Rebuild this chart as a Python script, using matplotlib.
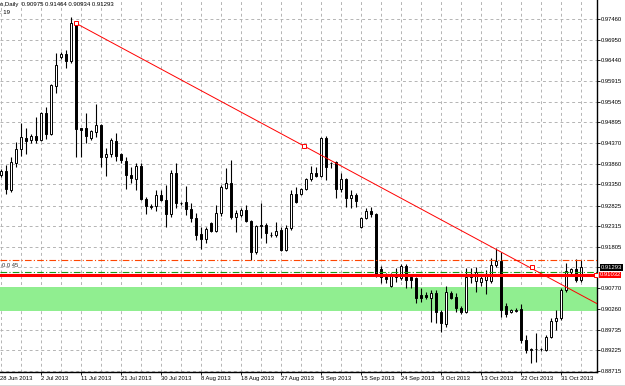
import matplotlib
matplotlib.use('Agg')
import matplotlib.pyplot as plt
from matplotlib.transforms import blended_transform_factory

plt.rcParams['font.family'] = ['Liberation Sans', 'DejaVu Sans']

# daily candles, bar index 0 = first visible bar
opens = [0.93585, 0.93685, 0.93212, 0.93884, 0.94232, 0.94506, 0.94456, 0.94556, 0.94456, 0.95128,
         0.94605, 0.95800, 0.96534, 0.96596, 0.96422, 0.97368, 0.94747, 0.94755, 0.94506, 0.94655,
         0.94830, 0.94033, 0.94108, 0.94431, 0.94108, 0.93934, 0.93585, 0.93486, 0.93809, 0.92987,
         0.92801, 0.92814, 0.93087, 0.92963, 0.92615, 0.93635, 0.92888, 0.92913, 0.92739, 0.92515,
         0.92117, 0.91993, 0.92391, 0.92192, 0.92640, 0.93262, 0.93386, 0.92540, 0.92590, 0.92714,
         0.92440, 0.91669, 0.92341, 0.92341, 0.92092, 0.92080, 0.92217, 0.91719, 0.92266, 0.93112,
         0.93112, 0.93237, 0.93486, 0.93635, 0.93561, 0.94506, 0.93884, 0.93909, 0.93237, 0.93486,
         0.93013, 0.93087, 0.92291, 0.92515, 0.92689, 0.92615, 0.91246, 0.91047, 0.90823, 0.91047,
         0.91022, 0.91321, 0.91047, 0.91022, 0.90599, 0.90599, 0.90524, 0.90649, 0.90176, 0.89877,
         0.90649, 0.90549, 0.90275, 0.90176, 0.91047, 0.90947, 0.90923, 0.90972, 0.90947, 0.91346,
         0.91445, 0.90325, 0.90176, 0.90213, 0.90250, 0.89479, 0.89230, 0.89243, 0.89243, 0.89230,
         0.89554, 0.89952, 0.90026, 0.90723, 0.91171, 0.91246, 0.90975]
highs = [0.93735, 0.93834, 0.94033, 0.94407, 0.94879, 0.94755, 0.94605, 0.95029, 0.95153, 0.95278,
         0.95850, 0.96621, 0.96646, 0.96696, 0.97517, 0.97393, 0.94767, 0.95128, 0.94705, 0.95352,
         0.94854, 0.94257, 0.94506, 0.94630, 0.94133, 0.94033, 0.93785, 0.93884, 0.93884, 0.93038,
         0.92863, 0.93212, 0.93212, 0.93336, 0.93710, 0.93884, 0.92913, 0.93311, 0.92888, 0.92640,
         0.92291, 0.92291, 0.92416, 0.92838, 0.93336, 0.93760, 0.93959, 0.92714, 0.92764, 0.92838,
         0.92465, 0.92341, 0.92888, 0.92391, 0.92167, 0.92416, 0.92291, 0.92341, 0.93212, 0.93287,
         0.93262, 0.93511, 0.93809, 0.93785, 0.94531, 0.94556, 0.93921, 0.93934, 0.93635, 0.93511,
         0.93212, 0.93137, 0.92540, 0.92764, 0.92789, 0.92640, 0.91321, 0.91146, 0.91146, 0.91271,
         0.91370, 0.91370, 0.91121, 0.91047, 0.90773, 0.90674, 0.90723, 0.90723, 0.90226, 0.90823,
         0.90698, 0.90649, 0.90325, 0.91271, 0.91271, 0.91296, 0.91121, 0.91221, 0.91520, 0.91769,
         0.91669, 0.90400, 0.90250, 0.90275, 0.90375, 0.89604, 0.89280, 0.89653, 0.89280, 0.89604,
         0.90026, 0.90226, 0.90773, 0.91395, 0.91271, 0.91495, 0.91464]
lows = [0.93535, 0.93112, 0.93162, 0.93785, 0.94058, 0.94108, 0.94382, 0.94382, 0.94431, 0.94481,
        0.94581, 0.95626, 0.96472, 0.96248, 0.96372, 0.94033, 0.94033, 0.94382, 0.94456, 0.94531,
        0.93785, 0.93561, 0.94033, 0.93934, 0.93884, 0.93237, 0.93386, 0.93212, 0.92963, 0.92615,
        0.92739, 0.92689, 0.92938, 0.92291, 0.92540, 0.92764, 0.92838, 0.92590, 0.92416, 0.91968,
        0.91744, 0.91893, 0.92167, 0.92167, 0.92565, 0.93237, 0.92490, 0.92167, 0.92540, 0.92416,
        0.91470, 0.91619, 0.92018, 0.91893, 0.92043, 0.92043, 0.91694, 0.91694, 0.92217, 0.92888,
        0.93087, 0.93212, 0.93436, 0.93536, 0.93536, 0.93461, 0.93760, 0.93013, 0.93162, 0.92789,
        0.92764, 0.92789, 0.92266, 0.92490, 0.92540, 0.91047, 0.90898, 0.90898, 0.90798, 0.90923,
        0.90972, 0.90773, 0.90773, 0.90400, 0.90425, 0.90499, 0.89927, 0.89902, 0.89678, 0.89803,
        0.90499, 0.90176, 0.90126, 0.90151, 0.90898, 0.90674, 0.90823, 0.90624, 0.90898, 0.91296,
        0.90051, 0.90051, 0.90151, 0.90176, 0.89404, 0.89156, 0.88907, 0.88932, 0.89205, 0.89205,
        0.89529, 0.89728, 0.89977, 0.90674, 0.91121, 0.90923, 0.90934]
closes = [0.93685, 0.93237, 0.93909, 0.94232, 0.94531, 0.94431, 0.94556, 0.94456, 0.95128, 0.94605,
          0.95825, 0.96323, 0.96596, 0.96422, 0.97368, 0.94730, 0.94705, 0.94556, 0.94680, 0.94830,
          0.94033, 0.94108, 0.94456, 0.94058, 0.93959, 0.93585, 0.93511, 0.93809, 0.92987, 0.92814,
          0.92814, 0.93087, 0.92963, 0.92615, 0.93635, 0.92888, 0.92876, 0.92739, 0.92515, 0.92092,
          0.91993, 0.92242, 0.92192, 0.92640, 0.93287, 0.93386, 0.92540, 0.92640, 0.92714, 0.92440,
          0.91669, 0.92316, 0.92328, 0.92142, 0.92080, 0.92204, 0.91719, 0.92266, 0.93112, 0.92913,
          0.93237, 0.93486, 0.93635, 0.93561, 0.94506, 0.93785, 0.93896, 0.93237, 0.93486, 0.93013,
          0.93087, 0.92938, 0.92515, 0.92689, 0.92615, 0.91097, 0.91047, 0.90997, 0.91121, 0.91097,
          0.91321, 0.90972, 0.90972, 0.90524, 0.90524, 0.90537, 0.90649, 0.90176, 0.89902, 0.90674,
          0.90524, 0.90275, 0.90176, 0.91047, 0.91097, 0.91171, 0.91022, 0.91121, 0.91346, 0.91445,
          0.90226, 0.90126, 0.90226, 0.90238, 0.89479, 0.89230, 0.89243, 0.89255, 0.89255, 0.89554,
          0.89952, 0.90026, 0.90723, 0.91196, 0.91246, 0.90972, 0.91293]

date_pos = [8, 16, 24, 32, 40, 48, 56, 64, 72, 80, 88, 96, 104, 112]
date_labels = ['2 Jul 2013', '11 Jul 2013', '21 Jul 2013', '30 Jul 2013', '8 Aug 2013',
               '18 Aug 2013', '27 Aug 2013', '5 Sep 2013', '15 Sep 2013', '24 Sep 2013',
               '3 Oct 2013', '13 Oct 2013', '22 Oct 2013', '31 Oct 2013']
first_date = '28 Jun 2013'

price_ticks = [0.97460, 0.96950, 0.96440, 0.95915, 0.95405, 0.94895, 0.94370, 0.93860, 0.93350,
               0.92825, 0.92315, 0.91805, 0.91293, 0.90770, 0.90260, 0.89735, 0.89225, 0.88715]
price_labels = ['%.5f' % p for p in price_ticks]
bid_price = 0.91293

# chart objects
trend_x = [15, 60.6, 106.2]
trend_y = [0.97360, 0.94307, 0.91296]
orange_level = 0.91482
green_level = 0.91171
red_level = 0.91100
red_label = '0.91032'
zone_top = 0.90791
zone_bottom = 0.90201

fig = plt.figure(figsize=(6.25, 3.86), dpi=100)
ax = fig.add_axes([0, 14 / 386, 597 / 625, 372 / 386])
ax.set_xlim(-0.2, 119.2)
ax.set_ylim(0.886827, 0.979403)

idx = list(range(len(opens)))

# grid
ax.set_axisbelow(True)
ax.set_xticks(range(0, 120, 4), minor=True)
ax.grid(True, which='both', axis='x', color='#b4b4b4', linestyle=(0, (3, 3)), lw=0.7)
ax.grid(True, which='major', axis='y', color='#b4b4b4', linestyle=(0, (3, 3)), lw=0.7)

# zone
ax.axhspan(zone_bottom, zone_top, color='#90ee90', lw=0, zorder=1)

# candles
ax.vlines(idx, lows, highs, color='black', lw=0.8, zorder=3)
bull = [c >= o for o, c in zip(opens, closes)]
bottoms = [min(o, c) for o, c in zip(opens, closes)]
heights = [max(abs(c - o), 0.00002) for o, c in zip(opens, closes)]
ax.bar(idx, heights, bottom=bottoms, width=0.5,
       color=['white' if b else 'black' for b in bull],
       edgecolor='black', lw=0.7, zorder=4)

# horizontal lines
ax.axhline(orange_level, color='#ff4500', lw=0.8, linestyle=(0, (6, 2, 1, 2)), zorder=5)
ax.axhline(green_level, color='#1a9a1a', lw=0.8, linestyle=(0, (6, 2, 1, 2)), zorder=5)
ax.axhline(red_level, color='#ff0000', lw=2.2, zorder=5)
ax.plot([118.9], [red_level], marker='s', ms=2.5, mfc='white', mec='red', mew=0.7, zorder=6)

# trend line from the top, extended to the right edge
slope = (trend_y[1] - trend_y[0]) / (trend_x[1] - trend_x[0])
x_end = 119.2
ax.plot([trend_x[0], x_end], [trend_y[0], trend_y[0] + slope * (x_end - trend_x[0])],
        color='#ff0000', lw=0.7, zorder=6)
ax.plot(trend_x, trend_y, linestyle='none', marker='s', ms=2.3, mfc='white', mec='red',
        mew=0.7, zorder=7)

ax.text(0.3, 0.91330, '0.0 45', fontsize=4.2, color='#303030', va='center', ha='left', zorder=7)

# axes styling
for s in ['top', 'left']:
    ax.spines[s].set_visible(False)
ax.spines['right'].set_color('black')
ax.spines['bottom'].set_color('black')
ax.spines['right'].set_linewidth(1.0)
ax.spines['bottom'].set_linewidth(1.0)

ax.yaxis.tick_right()
ax.set_yticks(price_ticks, price_labels)
ax.tick_params(axis='y', which='major', length=2.2, width=0.6, pad=0.8, labelsize=4.2, colors='black')
for lbl in ax.get_yticklabels():
    if lbl.get_text() == '%.5f' % bid_price:
        lbl.set_color('white')
        lbl.set_bbox(dict(fc='black', ec='none', pad=0.6))

ax.set_xticks(date_pos, date_labels)
ax.tick_params(axis='x', which='major', length=2.5, width=0.6, pad=0.6, labelsize=4.2)
ax.tick_params(axis='x', which='minor', length=0)
for lbl in ax.get_xticklabels():
    lbl.set_ha('left')

tr = blended_transform_factory(ax.transData, ax.transAxes)
ax.text(-0.15, -0.0105, first_date, transform=tr, fontsize=4.2, ha='left', va='top',
        clip_on=False)

ax.text(1.004, red_level, red_label, transform=blended_transform_factory(ax.transAxes, ax.transData),
        fontsize=4.2, color='white', va='center', ha='left', clip_on=False,
        bbox=dict(fc='#ff0000', ec='none', pad=0.6))

# header
fig.text(0.0, 1 - 4.5 / 386, 'o,Daily  0.90975 0.91464 0.90934 0.91293', fontsize=4.3,
         va='center', ha='left')
fig.text(0.0, 1 - 12 / 386, ': 19', fontsize=4.3, va='center', ha='left')

fig.add_artist(plt.Line2D([0, 1], [0.5 / 386, 0.5 / 386], color='#404040', lw=1.0))

fig.savefig('out.png', dpi=100)
